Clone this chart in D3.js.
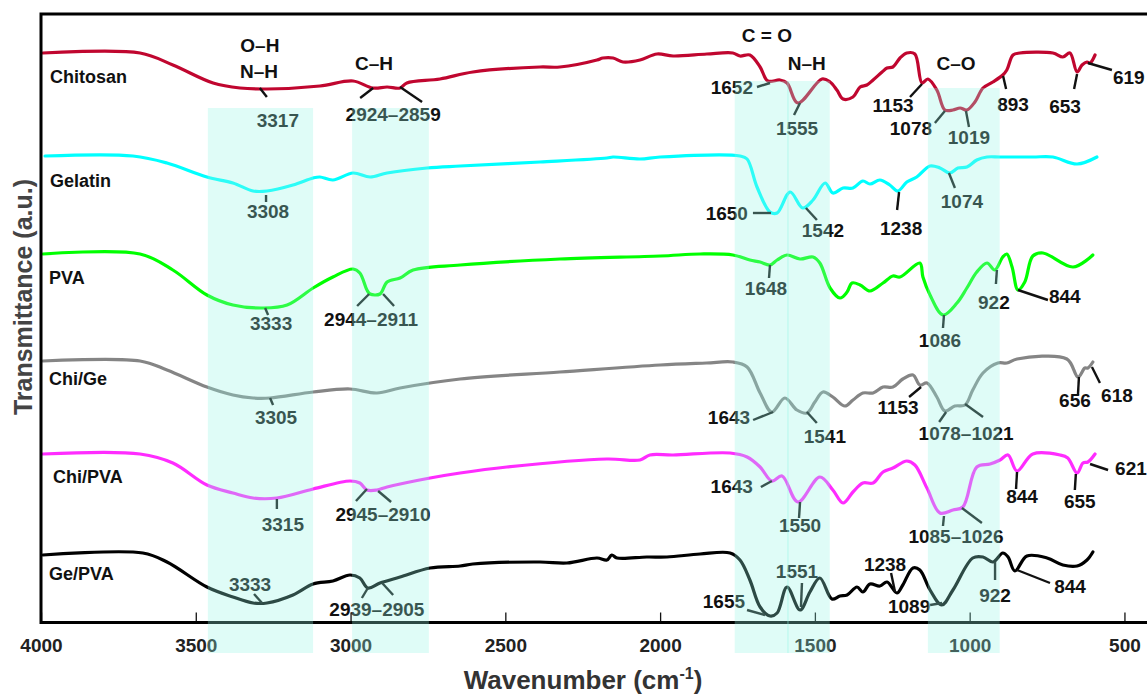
<!DOCTYPE html>
<html>
<head>
<meta charset="utf-8">
<script src="https://cdn.jsdelivr.net/npm/d3@7"></script>
<style>
  body { margin: 0; background: #fff; }
  svg { display: block; font-family: "Liberation Sans", Arial, sans-serif; font-weight: bold; }
</style>
</head>
<body>
<svg id="chart" width="1147" height="695"></svg>
<script>
// ─── Data (wavenumber cm-1, transmittance a.u. with stacking offset) ───
const chitosan = [[3994,569],[3680,569],[3574,557],[3444,539],[3357,534],[3270,533],[3099,536],[2992,541],[2928,534],[2882,535],[2840,534],[2818,539],[2711,543],[2605,550],[2388,555],[2324,555],[2204,562],[2185,564],[2152,564],[2120,560],[2065,562],[2010,568],[1958,566],[1849,568],[1765,569],[1742,566],[1710,567],[1677,555],[1652,541],[1613,542],[1590,539],[1555,519],[1477,543],[1451,540],[1429,532],[1409,523],[1377,525],[1354,535],[1332,537],[1312,542],[1283,550],[1267,554],[1248,555],[1225,564],[1203,569],[1177,568],[1154,539],[1135,543],[1106,532],[1080,512],[1054,512],[1031,514],[1009,512],[983,520],[957,534],[925,540],[893,547],[880,552],[860,567],[838,569],[731,569],[699,565],[676,569],[653,550],[637,557],[621,560],[611,559],[595,567]];

const gelatin = [[3987,466],[3703,466],[3593,459],[3464,445],[3380,439],[3315,431],[3270,431],[3186,437],[3121,444],[3099,445],[3057,442],[2992,449],[2937,445],[2882,449],[2753,454],[2646,456],[2388,460],[2172,464],[2152,465],[2065,463],[2000,465],[1742,466],[1719,463],[1687,435],[1645,410],[1622,409],[1580,430],[1539,414],[1506,422],[1467,439],[1442,429],[1409,434],[1377,434],[1345,441],[1322,438],[1290,442],[1258,437],[1232,431],[1203,440],[1171,445],[1128,456],[1096,454],[1064,449],[1038,454],[1009,455],[977,462],[944,465],[902,465],[796,465],[731,465],[653,458],[589,465]];

const pva = [[3994,368],[3680,368],[3574,352],[3464,327],[3380,317],[3283,314],[3205,317],[3121,334],[3057,345],[2992,353],[2970,349],[2947,332],[2937,328],[2905,328],[2882,340],[2840,344],[2798,352],[2646,357],[2324,363],[2000,366],[1871,368],[1765,367],[1710,362],[1677,360],[1645,357],[1622,362],[1590,367],[1548,363],[1506,365],[1484,359],[1451,334],[1419,324],[1396,330],[1380,339],[1354,337],[1322,331],[1280,339],[1248,346],[1225,345],[1161,359],[1151,345],[1128,327],[1086,307],[1041,319],[1009,334],[977,350],[944,359],[919,352],[893,365],[880,368],[863,355],[844,332],[822,340],[796,366],[763,369],[666,355],[602,367]];

const chiGe = [[3994,261],[3680,261],[3593,252],[3464,235],[3380,227],[3315,224],[3260,224],[3121,230],[3002,233],[2915,229],[2840,234],[2646,243],[2324,250],[2000,257],[1850,259],[1765,260],[1719,255],[1677,229],[1639,210],[1597,224],[1558,212],[1526,209],[1500,220],[1474,230],[1442,225],[1403,216],[1377,222],[1345,229],[1312,229],[1280,235],[1248,235],[1216,243],[1183,247],[1161,237],[1138,239],[1106,225],[1080,211],[1048,216],[1015,217],[990,232],[957,249],[909,259],[880,259],[847,263],[686,263],[650,245],[628,254],[618,254],[602,260]];

const chiPva = [[3994,168],[3680,168],[3574,159],[3464,137],[3380,129],[3315,124],[3238,124],[3121,133],[3002,141],[2970,139],[2947,132],[2915,132],[2882,135],[2743,144],[2646,149],[2495,155],[2172,163],[2065,162],[2033,167],[1958,167],[1774,169],[1719,165],[1677,155],[1639,141],[1606,146],[1555,120],[1484,145],[1442,132],[1409,119],[1377,130],[1345,139],[1312,139],[1280,150],[1248,154],[1203,161],[1177,157],[1138,134],[1096,109],[1054,112],[1022,115],[977,155],[934,158],[902,162],[876,167],[847,151],[796,168],[708,167],[683,164],[653,149],[634,159],[618,160],[595,168]];

const gePva = [[3994,67],[3671,69],[3593,60],[3464,35],[3380,25],[3315,19],[3270,19],[3186,27],[3121,38],[3057,41],[3002,47],[2970,44],[2944,34],[2905,39],[2840,45],[2743,54],[2646,56],[2605,58],[2388,60],[2301,59],[2204,64],[2172,62],[2156,67],[2139,64],[2043,65],[1978,65],[1871,68],[1774,69],[1742,62],[1710,42],[1677,15],[1645,6],[1622,9],[1590,35],[1548,12],[1516,30],[1484,44],[1445,23],[1419,26],[1396,27],[1364,35],[1345,30],[1322,38],[1290,36],[1267,40],[1235,29],[1216,37],[1183,54],[1161,52],[1128,32],[1090,17],[1054,32],[990,64],[957,65],[925,60],[893,69],[876,65],[854,51],[815,66],[750,64],[699,57],[653,56],[621,62],[602,70]];

const seriesNames = ["Chitosan", "Gelatin", "PVA", "Chi/Ge", "Chi/PVA", "Ge/PVA"];
const seriesData = [chitosan, gelatin, pva, chiGe, chiPva, gePva];
const seriesColors = ["#c0062f", "#00ffff", "#00ff00", "#858585", "#ff2cff", "#000000"];
// name label anchor (wavenumber, a.u.)
const nameLabelPos = [[3971,539],[3971,435],[3974,338],[3974,237],[3961,139],[3974,42]];

const xTicks = [4000, 3500, 3000, 2500, 2000, 1500, 1000, 500];

// highlighted regions: [from, to, top a.u.]
const bands = [[3461,3121,514],[2995,2747,514],[1759,1584,541],[1590,1452,541],[1135,903,534]];

// functional group labels
const groupLabels = [
  { t: "O–H", w: 3293, v: 570 },
  { t: "N–H", w: 3296, v: 544 },
  { t: "C–H", w: 2924, v: 552 },
  { t: "C = O", w: 1655, v: 580 },
  { t: "N–H", w: 1526, v: 552 },
  { t: "C–O", w: 1044, v: 552 }
];

// peak annotations: anchor on curve [w, v], leader offset d (px), label offset l (px)
const peaks = [
  { t: "3317", a: [3293,534], d: [7,9], l: [18,39] },
  { t: "2924–2859", a: [2927,534], d: [-13,10], a2: [2840,535], d2: [22,15], l: [20,33] },
  { t: "1652", a: [1645,539], d: [-13,4], l: [-17,11], anchor: "end" },
  { t: "1555", a: [1548,519], d: [-6,12], l: [-3,32] },
  { t: "1153", a: [1154,538], d: [-12,13], l: [-29,28] },
  { t: "1078", a: [1080,511], d: [-10,12], l: [-34,24] },
  { t: "1019", a: [1012,511], d: [3,16], l: [3,33] },
  { t: "893", a: [892,546], d: [3,13], l: [10,35] },
  { t: "653", a: [653,548], d: [-3,15], l: [-12,39] },
  { t: "619", a: [618,559], d: [24,7], l: [25,21], anchor: "start" },

  { t: "3308", a: [3273,427], d: [0,7], l: [2,23] },
  { t: "1650", a: [1642,409], d: [-18,0], l: [-23,7], anchor: "end" },
  { t: "1542", a: [1529,414], d: [11,12], l: [17,29] },
  { t: "1238", a: [1228,430], d: [-2,18], l: [2,43] },
  { t: "1074", a: [1067,449], d: [6,15], l: [13,35] },

  { t: "3333", a: [3276,314], d: [3,7], l: [6,22] },
  { t: "2944–2911", a: [2940,328], d: [-12,12], a2: [2895,328], d2: [11,12], l: [2,32] },
  { t: "1648", a: [1645,357], d: [-1,13], l: [-4,30] },
  { t: "1086", a: [1083,307], d: [-1,13], l: [-4,32] },
  { t: "922", a: [912,352], d: [-1,14], l: [-3,39] },
  { t: "844", a: [844,332], d: [30,10], l: [31,13], anchor: "start" },

  { t: "3305", a: [3260,224], d: [3,7], l: [6,26] },
  { t: "1643", a: [1635,210], d: [-20,8], l: [-23,12], anchor: "end" },
  { t: "1541", a: [1526,210], d: [10,11], l: [18,31] },
  { t: "1153", a: [1157,235], d: [-12,10], l: [-23,27] },
  { t: "1078–1021", a: [1076,210], d: [-7,10], a2: [1015,218], d2: [18,13], l: [20,28] },
  { t: "656", a: [647,245], d: [-1,18], l: [-4,30] },
  { t: "618", a: [605,255], d: [8,16], l: [25,35] },

  { t: "3315", a: [3238,123], d: [0,10], l: [6,32] },
  { t: "2945–2910", a: [2947,133], d: [-11,12], a2: [2911,131], d2: [13,11], l: [16,32] },
  { t: "1643", a: [1639,141], d: [-11,6], l: [-19,12], anchor: "end" },
  { t: "1550", a: [1548,120], d: [-1,16], l: [0,30] },
  { t: "1085–1026", a: [1083,106], d: [-1,10], a2: [1025,114], d2: [20,15], l: [12,27] },
  { t: "844", a: [847,150], d: [-1,17], l: [5,31] },
  { t: "655", a: [657,148], d: [-1,16], l: [4,34] },
  { t: "621", a: [611,158], d: [18,6], l: [25,11], anchor: "start" },

  { t: "3333", a: [3286,19], d: [-8,-9], l: [-12,-12] },
  { t: "2939–2905", a: [2944,34], d: [-6,10], a2: [2898,39], d2: [11,12], l: [9,28] },
  { t: "1655", a: [1661,7], d: [-18,-5], l: [-20,-7], anchor: "end" },
  { t: "1551", a: [1545,15], d: [1,-24], l: [-4,-29] },
  { t: "1238", a: [1241,30], d: [-4,-19], l: [-10,-21] },
  { t: "1089", a: [1089,19], d: [-12,2], l: [-33,10] },
  { t: "922", a: [918,60], d: [0,18], l: [0,40] },
  { t: "844", a: [847,52], d: [33,13], l: [53,23] }
];

(() => {
  // ─── Layout ─────────────────────────────────────────────────
  const svg = d3.select("#chart");
  const plotLeft = 41, plotTop = 14, plotBottom = 622.5;

  const x = d3.scaleLinear().domain([4000, 400]).range([plotLeft, 1155.4]);
  const y = d3.scaleLinear().domain([0, 608]).range([622, 14]);

  // ─── Curves ─────────────────────────────────────────────────
  const line = d3.line()
    .x((d) => x(d[0]))
    .y((d) => y(d[1]))
    .curve(d3.curveCatmullRom.alpha(0.5));

  svg.append("g")
    .selectAll("path")
    .data(seriesData)
    .join("path")
    .attr("d", line)
    .attr("fill", "none")
    .attr("stroke", (d, i) => seriesColors[i])
    .attr("stroke-width", 3.2)
    .attr("stroke-linejoin", "round")
    .attr("stroke-linecap", "round");

  // series names
  svg.append("g")
    .selectAll("text")
    .data(seriesNames)
    .join("text")
    .attr("x", (d, i) => x(nameLabelPos[i][0]))
    .attr("y", (d, i) => y(nameLabelPos[i][1]))
    .attr("font-size", 18)
    .attr("fill", "#111")
    .text((d) => d);

  // ─── Annotations ────────────────────────────────────────────
  const ann = svg.append("g").attr("fill", "#111").attr("font-size", 19);

  ann.selectAll("text.grp")
    .data(groupLabels)
    .join("text")
    .attr("class", "grp")
    .attr("x", (d) => x(d.w))
    .attr("y", (d) => y(d.v))
    .attr("text-anchor", "middle")
    .text((d) => d.t);

  const leaders = [];
  peaks.forEach((p) => {
    leaders.push({ a: p.a, d: p.d });
    if (p.a2) leaders.push({ a: p.a2, d: p.d2 });
  });

  ann.selectAll("line")
    .data(leaders)
    .join("line")
    .attr("x1", (d) => x(d.a[0]))
    .attr("y1", (d) => y(d.a[1]))
    .attr("x2", (d) => x(d.a[0]) + d.d[0])
    .attr("y2", (d) => y(d.a[1]) + d.d[1])
    .attr("stroke", "#111")
    .attr("stroke-width", 2.4);

  ann.selectAll("text.peak")
    .data(peaks)
    .join("text")
    .attr("class", "peak")
    .attr("x", (d) => x(d.a[0]) + d.l[0])
    .attr("y", (d) => y(d.a[1]) + d.l[1])
    .attr("text-anchor", (d) => d.anchor || "middle")
    .text((d) => d.t);

  // ─── Axes ───────────────────────────────────────────────────
  const xAxis = svg.append("g")
    .attr("transform", `translate(0,${plotBottom})`)
    .call(d3.axisBottom(x)
      .tickValues(xTicks)
      .tickFormat(d3.format("d"))
      .tickSizeInner(-10)
      .tickSizeOuter(0)
      .tickPadding(16));
  xAxis.select(".domain").remove();
  xAxis.selectAll(".tick line").attr("stroke", "#111").attr("stroke-width", 1.3);
  xAxis.selectAll(".tick text")
    .attr("font-size", 19)
    .attr("font-family", "Liberation Sans, Arial, sans-serif")
    .attr("font-weight", "bold")
    .attr("fill", "#222");

  // frame: left, top, bottom
  svg.append("path")
    .attr("d", `M1160,${plotTop}H${plotLeft}V${plotBottom}H1160`)
    .attr("fill", "none")
    .attr("stroke", "#000")
    .attr("stroke-width", 3);

  // axis titles
  const xt = svg.append("text")
    .attr("x", 583)
    .attr("y", 689)
    .attr("text-anchor", "middle")
    .attr("font-size", 26)
    .attr("fill", "#333");
  xt.append("tspan").text("Wavenumber (cm");
  xt.append("tspan").attr("font-size", 16).attr("dy", -10).text("-1");
  xt.append("tspan").attr("dy", 10).text(")");

  svg.append("text")
    .attr("transform", "translate(32,297) rotate(-90)")
    .attr("text-anchor", "middle")
    .attr("font-size", 25)
    .attr("fill", "#444")
    .text("Transmittance (a.u.)");

  // ─── Highlight bands (drawn on top, translucent) ────────────
  svg.append("g")
    .selectAll("rect")
    .data(bands)
    .join("rect")
    .attr("x", (d) => x(d[0]))
    .attr("width", (d) => x(d[1]) - x(d[0]))
    .attr("y", (d) => y(d[2]))
    .attr("height", (d) => y(-31) - y(d[2]))
    .attr("fill", "rgb(150,246,230)")
    .attr("fill-opacity", 0.3);
})();
</script>
</body>
</html>
